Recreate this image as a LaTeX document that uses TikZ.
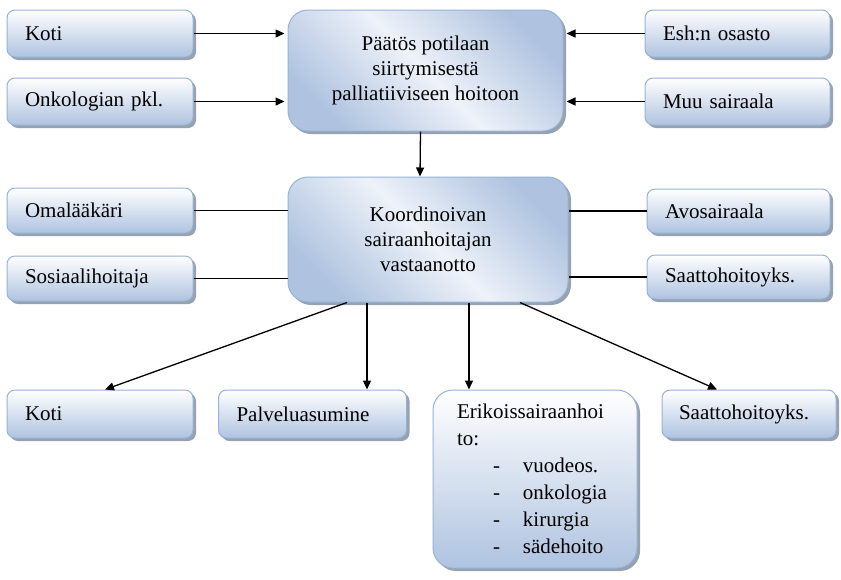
\documentclass[tikz,border=0pt]{standalone}
\usepackage{fontspec}
\setmainfont{Liberation Serif}
\usetikzlibrary{arrows.meta,shadows}
\definecolor{boxline}{HTML}{95B3D7}
\definecolor{boxdark}{HTML}{AFC3E0}
\definecolor{boxlight}{HTML}{EEF2F9}
\definecolor{boxshade}{HTML}{98A1AE}
\begin{document}
\begin{tikzpicture}[x=1pt,y=-1pt,>={Triangle[length=9pt,width=8pt]}, line width=1.3pt,
	font=\fontsize{21}{25}\selectfont,
	base/.style={draw=boxline, line width=1pt,
		drop shadow={shadow xshift=3pt,shadow yshift=-3pt,fill=boxshade,opacity=1}},
	smallbox/.style={base, rounded corners=8pt, top color=white, bottom color=boxdark,
		minimum height=47pt, inner xsep=18pt, align=left},
	bigbox/.style={base, rounded corners=20pt, top color=boxdark, bottom color=boxdark,
		middle color=boxlight, shading angle=-45, align=center}]
	\useasboundingbox (0,0) rectangle (841,579);
	% yläosa
	\node[smallbox, text width=150pt] (koti1) at (100,33.5) {Koti};
	\node[smallbox, text width=150pt] (onko) at (100,101.5) {Onkologian pkl.};
	\node[smallbox, text width=149pt] (esh) at (737.5,33.5) {Esh:n osasto};
	\node[smallbox, text width=149pt] (muu) at (737.5,101.5) {Muu sairaala};
	\node[bigbox, minimum width=275pt, minimum height=121pt] (paatos) at (425.5,70.5)
		{Päätös potilaan\\siirtymisestä\\palliatiiviseen hoitoon};
	% keskiosa
	\node[bigbox, minimum width=280pt, minimum height=125pt] (koord) at (428,239.5)
		{Koordinoivan\\sairaanhoitajan\\vastaanotto};
	\node[smallbox, text width=150pt, minimum height=45pt] (omal) at (100,210.5) {Omalääkäri};
	\node[smallbox, text width=150pt, minimum height=45pt] (sosi) at (100,278.5) {Sosiaalihoitaja};
	\node[smallbox, text width=147pt, minimum height=44pt] (avos) at (738.5,211) {Avosairaala};
	\node[smallbox, text width=147pt, minimum height=44pt] (saatto1) at (738.5,277) {Saattohoitoyks.};
	% alaosa
	\node[smallbox, text width=150pt, minimum height=48pt] (koti2) at (100,414) {Koti};
	\node[smallbox, text width=152pt, minimum height=48pt] (palvelu) at (312.5,414) {Palveluasumine};
	\node[smallbox, text width=140pt, minimum height=48pt, inner xsep=17pt] (saatto2) at (749,414) {Saattohoitoyks.};
	\node[smallbox, rounded corners=20pt, text width=156pt, inner xsep=24pt,
		minimum height=178pt, font=\fontsize{21}{27}\selectfont] (erik) at (535,479)
		{Erikoissairaanhoi\\to:\\
		\hspace*{36pt}\makebox[30pt][l]{-}vuodeos.\\
		\hspace*{36pt}\makebox[30pt][l]{-}onkologia\\
		\hspace*{36pt}\makebox[30pt][l]{-}kirurgia\\
		\hspace*{36pt}\makebox[30pt][l]{-}sädehoito};
	% nuolet
	\draw[->, shorten >=3pt] (koti1.east) -- (koti1 -| paatos.west);
	\draw[->, shorten >=3pt] (onko.east) -- (onko -| paatos.west);
	\draw[->, shorten >=3pt] (esh.west) -- (esh -| paatos.east);
	\draw[->, shorten >=3pt] (muu.west) -- (muu -| paatos.east);
	\draw[->] ([xshift=-5pt]paatos.south) -- ([xshift=-8pt]koord.north);
	\draw (omal.east) -- (omal -| koord.west);
	\draw (sosi.east) -- (sosi -| koord.west);
	\draw (avos.west) -- (avos -| koord.east);
	\draw (saatto1.west) -- (saatto1 -| koord.east);
	\coordinate (s1) at ([xshift=-81pt]koord.south);
	\coordinate (s2) at ([xshift=-61pt]koord.south);
	\coordinate (s3) at ([xshift=41pt]koord.south);
	\coordinate (s4) at ([xshift=92pt]koord.south);
	\draw[->] (s1) -- ([xshift=5pt]koti2.north);
	\draw[->] (s2) -- (s2 |- palvelu.north);
	\draw[->] (s3) -- (s3 |- erik.north);
	\draw[->] (s4) -- ([xshift=-32pt]saatto2.north);
\end{tikzpicture}
\end{document}
